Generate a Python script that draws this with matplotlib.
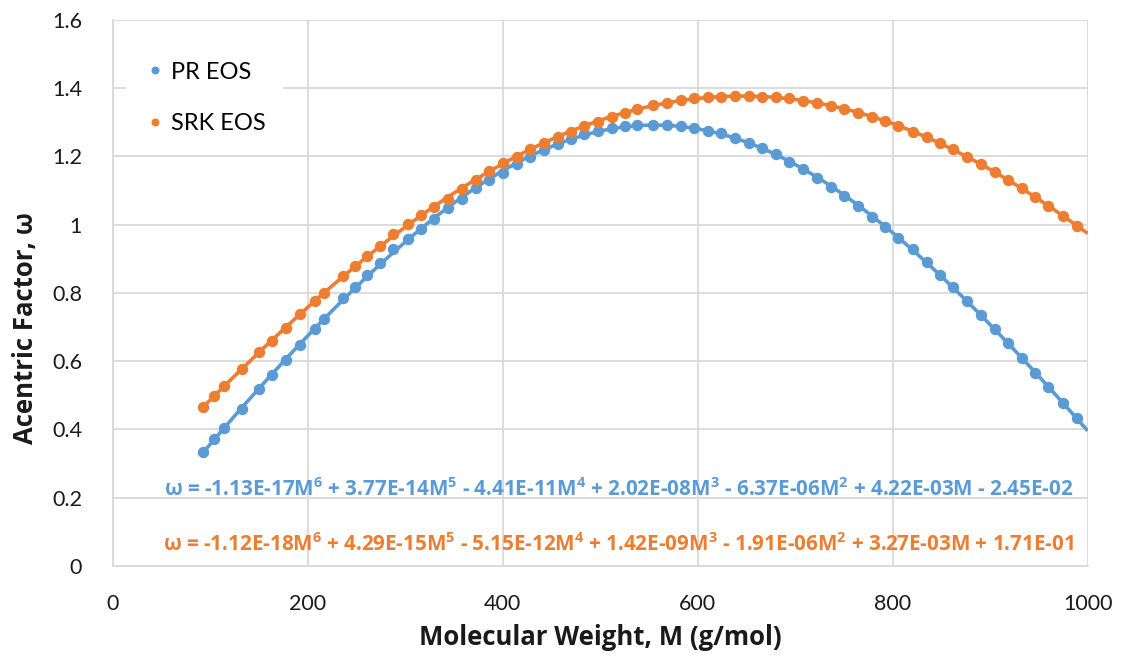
import numpy as np
import matplotlib
matplotlib.use("Agg")
import matplotlib.pyplot as plt
from matplotlib.ticker import FuncFormatter, MultipleLocator

plt.rcParams['font.family'] = ['Lato', 'DejaVu Sans']
plt.rcParams['mathtext.default'] = 'regular'

# Molecular weight (g/mol)
mw = [92.9, 104.2, 114.5, 132.3, 150.4, 163.1, 177.7, 191.8, 207.5, 217.0,
      236.5, 249.0, 261.0, 274.2, 288.0, 303.2, 316.2, 329.8, 343.6, 357.9,
      372.6, 385.5, 400.0, 414.4, 428.0, 442.7, 456.4, 470.0, 483.7, 498.0,
      511.8, 525.4, 538.0, 554.0, 568.5, 582.7, 596.5, 610.3, 623.9, 638.6,
      652.3, 666.3, 680.0, 694.0, 708.3, 722.7, 736.4, 750.4, 764.7, 778.5,
      792.1, 805.8, 820.5, 834.9, 848.5, 862.2, 876.5, 890.3, 904.9, 918.6,
      932.3, 945.9, 959.6, 975.0, 988.7]

pr_omega = [0.335, 0.373, 0.405, 0.459, 0.519, 0.559, 0.603, 0.647, 0.694, 0.723,
            0.784, 0.818, 0.853, 0.888, 0.927, 0.958, 0.988, 1.015, 1.047, 1.075,
            1.106, 1.130, 1.152, 1.176, 1.199, 1.218, 1.235, 1.250, 1.264, 1.274,
            1.282, 1.288, 1.292, 1.291, 1.292, 1.288, 1.284, 1.273, 1.267, 1.252,
            1.238, 1.223, 1.206, 1.184, 1.162, 1.137, 1.111, 1.084, 1.055, 1.023,
            0.994, 0.960, 0.927, 0.891, 0.852, 0.816, 0.777, 0.735, 0.693, 0.652,
            0.610, 0.566, 0.523, 0.476, 0.434]

srk_omega = [0.467, 0.498, 0.527, 0.576, 0.626, 0.659, 0.698, 0.737, 0.777, 0.798,
             0.849, 0.878, 0.907, 0.937, 0.972, 1.001, 1.028, 1.052, 1.076, 1.104,
             1.130, 1.157, 1.179, 1.199, 1.220, 1.238, 1.257, 1.272, 1.288, 1.301,
             1.316, 1.327, 1.339, 1.350, 1.357, 1.364, 1.369, 1.372, 1.374, 1.377,
             1.377, 1.374, 1.373, 1.369, 1.363, 1.355, 1.348, 1.337, 1.327, 1.316,
             1.303, 1.288, 1.272, 1.255, 1.238, 1.220, 1.199, 1.177, 1.155, 1.130,
             1.106, 1.080, 1.054, 1.025, 0.997]

series_names = ['PR EOS', 'SRK EOS']
colors = ['#5B9BD5', '#ED7D31']
eq_texts = [
    'ω = -1.13E-17M$^{6}$ + 3.77E-14M$^{5}$ - 4.41E-11M$^{4}$ + 2.02E-08M$^{3}$ - 6.37E-06M$^{2}$ + 4.22E-03M - 2.45E-02',
    'ω = -1.12E-18M$^{6}$ + 4.29E-15M$^{5}$ - 5.15E-12M$^{4}$ + 1.42E-09M$^{3}$ - 1.91E-06M$^{2}$ + 3.27E-03M + 1.71E-01',
]

bold_family = ['Open Sans', 'DejaVu Sans']

fig = plt.figure(figsize=(11.22, 6.58), dpi=100)
ax = fig.add_axes([0.1004, 0.1398, 0.8690, 0.8304])

for vals, name, c in zip([pr_omega, srk_omega], series_names, colors):
    x = np.array(mw)
    y = np.array(vals)
    p = np.polynomial.Polynomial.fit(x, y, 6)
    xs = np.linspace(x.min(), 1000, 400)
    ax.plot(xs, p(xs), color=c, lw=2.6, zorder=3, solid_capstyle='butt')
    ax.plot(x, y, 'o', color=c, ms=8.2, mew=0, zorder=4, label=name)

ax.set_xlim(0, 1000)
ax.set_ylim(0, 1.6)
ax.xaxis.set_major_locator(MultipleLocator(200))
ax.yaxis.set_major_locator(MultipleLocator(0.2))
ax.xaxis.set_major_formatter(FuncFormatter(lambda v, p: '%g' % round(v, 2)))
ax.yaxis.set_major_formatter(FuncFormatter(lambda v, p: '%g' % round(v, 2)))
ax.grid(True, color='#D9D9D9', lw=1.3, zorder=0)
ax.set_axisbelow(True)
for s in ['top', 'right']:
    ax.spines[s].set_visible(False)
for s in ['left', 'bottom']:
    ax.spines[s].set_color('#D9D9D9')
    ax.spines[s].set_linewidth(1.3)
ax.tick_params(length=0, labelsize=15.5, colors='#1a1a1a')
ax.tick_params(axis='x', pad=20)
ax.tick_params(axis='y', pad=22)

ax.set_xlabel('Molecular Weight, M (g/mol)', fontsize=18.5, fontweight='bold',
              family=bold_family, color='#1a1a1a')
ax.xaxis.set_label_coords(0.5, -0.106)
ax.set_ylabel('Acentric Factor, ω', fontsize=18.5, fontweight='bold',
              family=bold_family, color='#1a1a1a')
ax.yaxis.set_label_coords(-0.076, 0.436)

ax.text(519, 0.2225, eq_texts[0], color=colors[0], fontsize=14.9, fontweight='bold',
        family=bold_family, ha='center', va='center', zorder=5)
ax.text(519, 0.0615, eq_texts[1], color=colors[1], fontsize=14.9, fontweight='bold',
        family=bold_family, ha='center', va='center', zorder=5)

leg = ax.legend(loc='upper left', bbox_to_anchor=(0.002, 0.975), frameon=True,
                facecolor='white', edgecolor='none', framealpha=1, fontsize=17,
                markerscale=0.7, handletextpad=0.2, labelspacing=1.3,
                borderpad=0.7, handlelength=1.0)
leg.set_zorder(6)

fig.savefig('out.png', dpi=100)
